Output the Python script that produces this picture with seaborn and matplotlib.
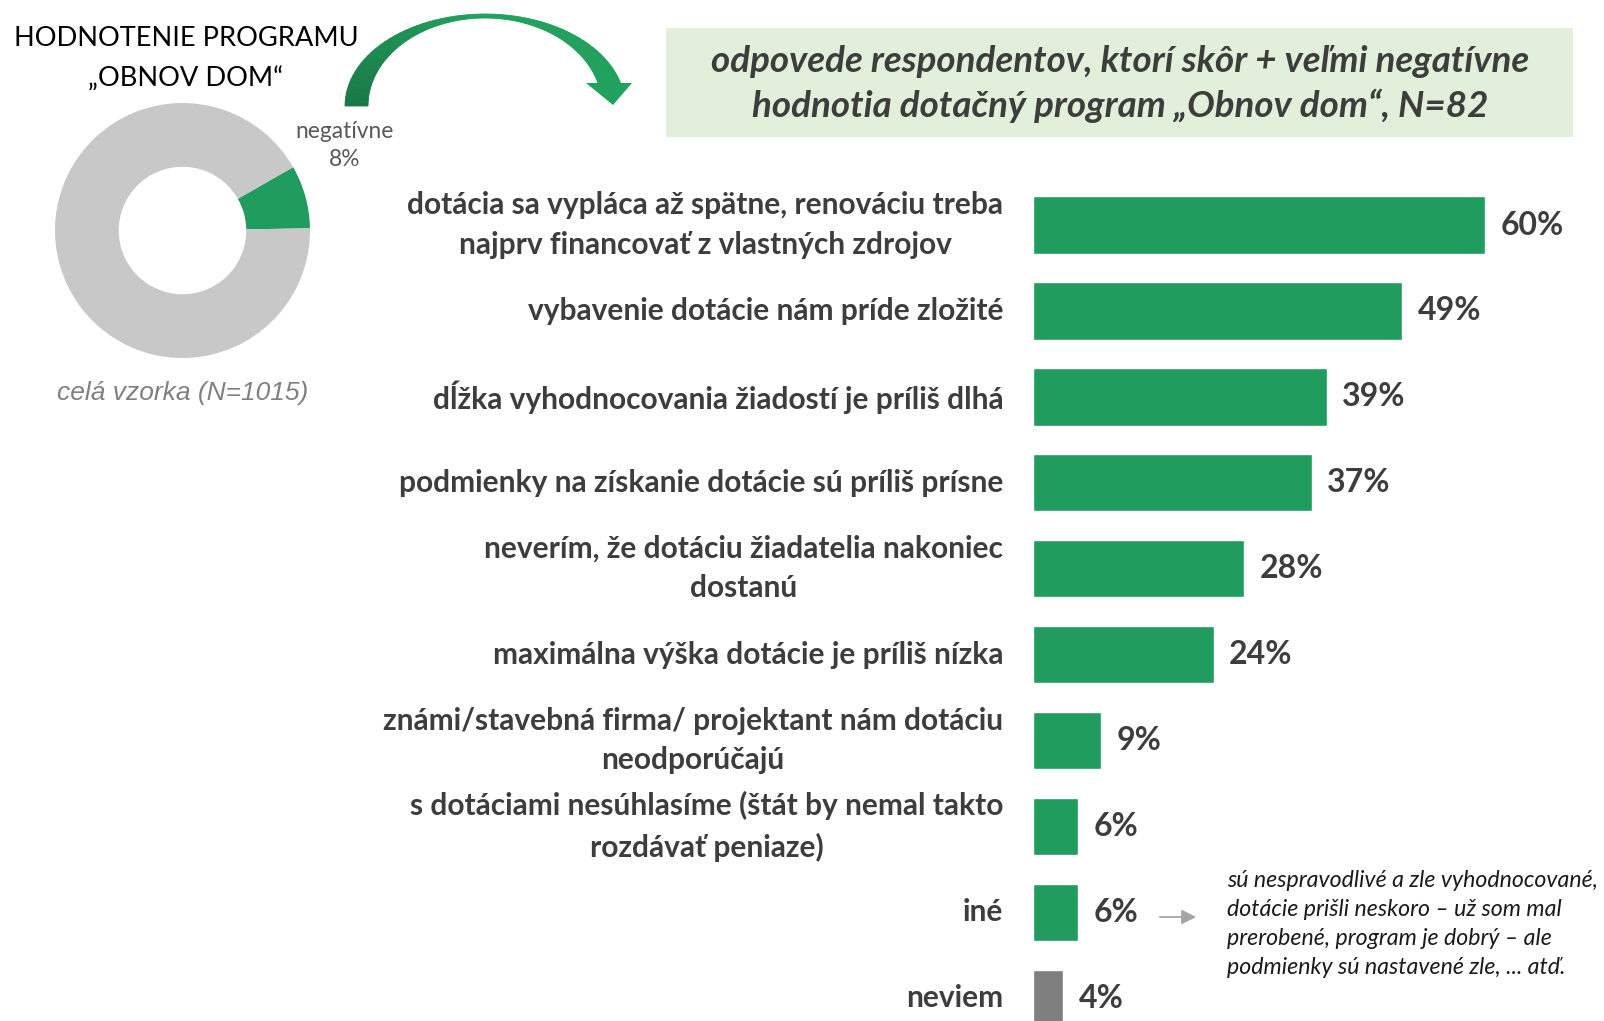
import matplotlib.pyplot as plt
import matplotlib.patches as mpatches
import numpy as np
import pandas as pd
import seaborn as sns

W, H = 1604, 1021

# bar chart data
categories = [
    "dotácia sa vypláca až spätne, renováciu treba\nnajprv financovať z vlastných zdrojov",
    "vybavenie dotácie nám príde zložité",
    "dĺžka vyhodnocovania žiadostí je príliš dlhá",
    "podmienky na získanie dotácie sú príliš prísne",
    "neverím, že dotáciu žiadatelia nakoniec\ndostanú",
    "maximálna výška dotácie je príliš nízka",
    "známi/stavebná firma/ projektant nám dotáciu\nneodporúčajú",
    "s dotáciami nesúhlasíme (štát by nemal takto\nrozdávať peniaze)",
    "iné",
    "neviem",
]
values = [60, 49, 39, 37, 28, 24, 9, 6, 6, 4]

# donut data
donut_labels = ["negatívne", "ostatní"]
donut_values = [8, 92]

title_lines = ["HODNOTENIE PROGRAMU", "„OBNOV DOM“"]
box_lines = [
    "odpovede respondentov, ktorí skôr + veľmi negatívne",
    "hodnotia dotačný program „Obnov dom“, N=82",
]
sample_text = "celá vzorka (N=1015)"
note_lines = [
    "sú nespravodlivé a zle vyhodnocované,",
    "dotácie prišli neskoro – už som mal",
    "prerobené, program je dobrý – ale",
    "podmienky sú nastavené zle, ... atď.",
]

GREEN = "#1F9C5E"
GREY_BAR = "#7F7F7F"
TXT = "#3D3D3D"

sns.set_style("white")
plt.rcParams["font.family"] = ["Lato", "DejaVu Sans"]

fig = plt.figure(figsize=(W / 100, H / 100), dpi=100)

# overlay axes in pixel coordinates for decorations
bg = fig.add_axes([0, 0, 1, 1])
bg.set_xlim(0, W)
bg.set_ylim(H, 0)
bg.axis("off")

# title top-left
bg.text(186, 39, title_lines[0], ha="center", va="center", fontsize=19.6, color="black")
bg.text(186, 79, title_lines[1], ha="center", va="center", fontsize=19.6, color="black")


def curved_arrow(axis):
    # band between two ellipses (thin on top like the office shape), with gradient
    acx, acy = 485, 106
    ao, bo = 140, 92
    ai, bi = 117, 88
    base_y = 83
    t_o = np.linspace(np.pi, np.arcsin((acy - base_y) / bo), 61)
    t_i = np.linspace(np.pi, np.arcsin((acy - base_y) / bi), 61)
    dark = np.array([0x1A, 0x78, 0x47]) / 255
    light = np.array([0x21, 0xA0, 0x5E]) / 255
    for k in range(60):
        frac = min(1.0, k / 30)
        col = dark + (light - dark) * frac
        pts = [
            (acx + ao * np.cos(t_o[k]), acy - bo * np.sin(t_o[k])),
            (acx + ao * np.cos(t_o[k + 1]), acy - bo * np.sin(t_o[k + 1])),
            (acx + ai * np.cos(t_i[k + 1]), acy - bi * np.sin(t_i[k + 1])),
            (acx + ai * np.cos(t_i[k]), acy - bi * np.sin(t_i[k])),
        ]
        axis.add_patch(mpatches.Polygon(pts, closed=True, facecolor=col,
                                        edgecolor=col, lw=0.6))
    axis.add_patch(mpatches.Polygon([(586, base_y), (632, base_y), (613, 105)],
                                    closed=True, color=light, lw=0))


curved_arrow(bg)

# title box
bg.add_patch(mpatches.Rectangle((666, 28), 907, 109, facecolor="#E2EFDA", edgecolor="none"))
bg.text(1120, 61, box_lines[0], ha="center", va="center", fontsize=26.5,
        fontweight="bold", fontstyle="italic", color=TXT)
bg.text(1120, 106, box_lines[1], ha="center", va="center", fontsize=26.5,
        fontweight="bold", fontstyle="italic", color=TXT)

# donut labels
bg.text(345, 131, donut_labels[0], ha="center", va="center", fontsize=16.4, color="#595959")
bg.text(345, 160, f"{donut_values[0]}%", ha="center", va="center", fontsize=16.4, color="#595959")
bg.text(183, 393, sample_text, ha="center", va="center", fontsize=19,
        fontstyle="italic", color="#808080", family="Liberation Sans")

# note for "iné"
bg.annotate("", xy=(1199, 917), xytext=(1157, 917),
            arrowprops=dict(arrowstyle="-|>", color="#A6A6A6", lw=1.3, mutation_scale=22))
for k, line in enumerate(note_lines):
    bg.text(1227, 880 + 29.3 * k, line, ha="left", va="center", fontsize=16.7,
            fontstyle="italic", color="#1A1A1A")

# donut
cx, cy, R = 182.5, 230.5, 127.5
axd = fig.add_axes([(cx - R) / W, 1 - (cy + R) / H, 2 * R / W, 2 * R / H])
axd.pie(donut_values, colors=[GREEN, "#C8C8C8"], startangle=1, counterclock=True,
        wedgeprops=dict(width=0.5, linewidth=0))
axd.set_xlim(-1, 1)
axd.set_ylim(-1, 1)
axd.set_aspect("equal")

# bar chart
x0 = 1033
pitch = 85.9
first = 225.1
ax = fig.add_axes([x0 / W, 0, (W - x0) / W, 1])
ax.set_facecolor("none")
df = pd.DataFrame({"kategoria": categories, "podiel": values})
palette = {c: (GREY_BAR if c == "neviem" else GREEN) for c in categories}
sns.barplot(data=df, x="podiel", y="kategoria", hue="kategoria", palette=palette,
            legend=False, width=0.667, orient="h", ax=ax, saturation=1)
ax.set_xlim(0, (W - x0) / 7.54)
ax.set_ylim((H - first) / pitch, -first / pitch)
for cont, v in zip(ax.containers, values):
    ax.bar_label(cont, labels=[f"{v}%"], padding=11, fontsize=23,
                 fontweight="bold", color=TXT)
ax.set_xlabel("")
ax.set_ylabel("")
ax.set_xticks([])
ax.tick_params(axis="y", length=0, pad=21.5)
for lab in ax.get_yticklabels():
    lab.set_fontsize(21.5)
    lab.set_fontweight("bold")
    lab.set_color(TXT)
    lab.set_multialignment("center")
    lab.set_linespacing(1.5)
    lab.set_verticalalignment("center")
sns.despine(ax=ax, left=True, bottom=True)

fig.savefig("out.png", dpi=100)
